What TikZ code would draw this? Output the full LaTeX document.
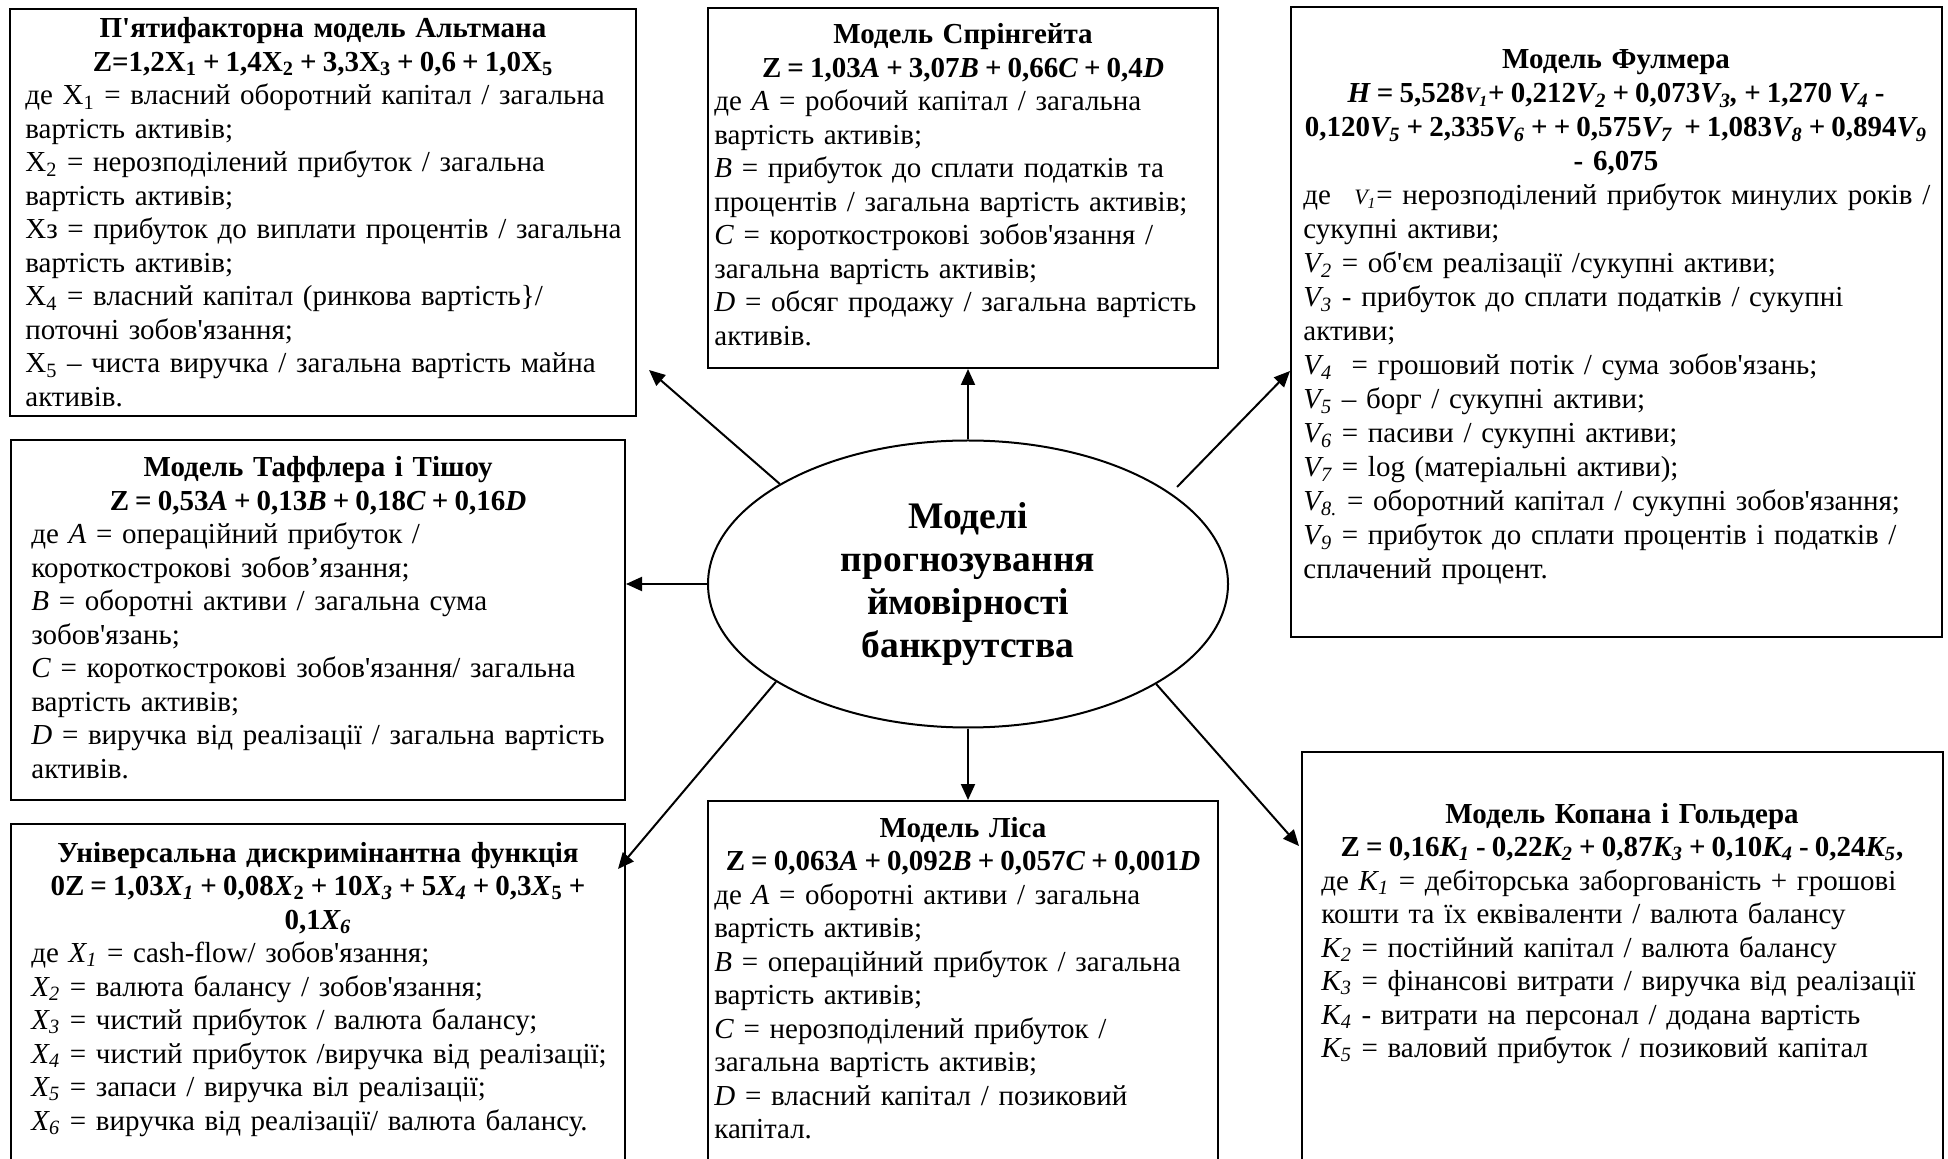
\documentclass[tikz,border=0pt]{standalone}
\usepackage{fontspec}
\setmainfont{Liberation Serif}[Ligatures=TeXOff]
\usetikzlibrary{arrows.meta,calc,shapes.geometric,fit}
\newcommand{\bodyfont}{\fontsize{14.5pt}{16.75pt}\selectfont}
\newcommand{\fulfont}{\fontsize{14.5pt}{17pt}\selectfont}
\newcommand{\ellfont}{\fontsize{18.75pt}{21.5pt}\selectfont\bfseries}
\newcommand{\jl}[2]{\makebox[#1][s]{#2}}
\newcommand{\bi}[1]{\textbf{\textit{#1}}}
\newcommand{\vs}[1]{\textit{V\textsubscript{#1}}}
\newcommand{\smv}[1]{{\fontsize{11pt}{12pt}\selectfont #1}}
\newcommand{\fm}[1]{{\spaceskip=0.21em\relax #1}}
\begin{document}
\begin{tikzpicture}[x=0.5pt,y=-0.5pt,
  frame/.style={draw,line width=1pt,inner sep=0pt,rectangle},
  ttl/.style={anchor=base,inner sep=0pt,text width=#1,align=center,font=\bodyfont\bfseries},
  bdy/.style={anchor=base west,inner sep=0pt,text width=#1,align=left,font=\bodyfont},
  arr/.style={line width=1pt,-{Triangle[length=8pt,width=7pt]}}]
\useasboundingbox (0,0) rectangle (1948,1159);
\clip (0,0) rectangle (1948,1159);
\fill[white] (0,0) rectangle (1948,1159);

% frames
\node[frame,fit={(10,9)(636,416)}] (altman) {};
\node[frame,fit={(708,8)(1218,368)}] (spr) {};
\node[frame,fit={(1291,7)(1942,637)}] (ful) {};
\node[frame,fit={(11,440)(625,800)}] (taf) {};
\node[frame,fit={(11,824)(625,1180)}] (uni) {};
\node[frame,fit={(708,801)(1218,1180)}] (lis) {};
\node[frame,fit={(1302,752)(1943,1180)}] (kop) {};

% Altman
\node[ttl=340pt] (altmanT) at (323,38) {П'ятифакторна модель Альтмана\\\fm{Z=1,2X\textsubscript{1} + 1,4X\textsubscript{2} + 3,3X\textsubscript{3} + 0,6 + 1,0X\textsubscript{5}}};
\node[bdy=330pt] (altmanB) at (25,105) {де X\textsubscript{1} = власний оборотний капітал / загальна\\
вартість активів;\\
X\textsubscript{2} = нерозподілений прибуток / загальна\\
вартість активів;\\
Xз = прибуток до виплати процентів / загальна\\
вартість активів;\\
X\textsubscript{4} = власний капітал (ринкова вартість\}/\\
поточні зобов'язання;\\
\jl{298.5pt}{X\textsubscript{5} – чиста виручка / загальна вартість майна}\\
активів.};

% Springate
\node[ttl=340pt] (sprT) at (963,44) {Модель Спрінгейта\\\fm{Z = 1,03\bi{A} + 3,07\bi{B} + 0,66\bi{C} + 0,4\bi{D}}};
\node[bdy=330pt] (sprB) at (714,111) {де \textit{A} = робочий капітал / загальна\\
вартість активів;\\
\textit{B} = прибуток до сплати податків та\\
процентів / загальна вартість активів;\\
\textit{C} = короткострокові зобов'язання /\\
загальна вартість активів;\\
\jl{249pt}{\textit{D} = обсяг продажу / загальна вартість}\\
активів.};

% Fulmer
\node[ttl=340pt,font=\fulfont\bfseries] (fulT) at (1616,69) {Модель Фулмера\\
\fm{\bi{H} = 5,528\smv{\bi{V\textsubscript{1}}}+ 0,212\bi{V\textsubscript{2}} + 0,073\bi{V\textsubscript{3},} + 1,270 \bi{V\textsubscript{4}} -}\\
\fm{0,120\bi{V\textsubscript{5}} + 2,335\bi{V\textsubscript{6}} + + 0,575\bi{V\textsubscript{7}}\ \ + 1,083\bi{V\textsubscript{8}} + 0,894\bi{V\textsubscript{9}}}\\
- 6,075};
\node[bdy=340pt,font=\fulfont] (fulB) at (1303,205) {\jl{313.5pt}{де\hspace{10pt plus 1fil}\smv{\textit{V\textsubscript{1}}}= нерозподілений прибуток минулих років /}\\
сукупні активи;\\
\vs{2} = об'єм реалізації /сукупні активи;\\
\vs{3} - прибуток до сплати податків / сукупні\\
активи;\\
\vs{4}\ \ = грошовий потік / сума зобов'язань;\\
\vs{5} – борг / сукупні активи;\\
\vs{6} = пасиви / сукупні активи;\\
\vs{7} = log (матеріальні активи);\\
\vs{8.} = оборотний капітал / сукупні зобов'язання;\\
\jl{313.5pt}{\vs{9} = прибуток до сплати процентів і податків /}\\
сплачений процент.};

% Taffler
\node[ttl=340pt] (tafT) at (318,477) {Модель Таффлера і Тішоу\\\fm{Z = 0,53\bi{A} + 0,13\bi{B} + 0,18\bi{C} + 0,16\bi{D}}};
\node[bdy=330pt] (tafB) at (31,544) {де \textit{A} = операційний прибуток /\\
короткострокові зобов’язання;\\
\textit{B} = оборотні активи / загальна сума\\
зобов'язань;\\
\textit{C} = короткострокові зобов'язання/ загальна\\
вартість активів;\\
\textit{D} = виручка від реалізації / загальна вартість\\
активів.};

% Universal
\node[ttl=340pt] (uniT) at (318,862) {Універсальна дискримінантна функція\\
\fm{0Z = 1,03\bi{X\textsubscript{1}} + 0,08\bi{X}\textsubscript{2} + 10\bi{X\textsubscript{3}} + 5\bi{X\textsubscript{4}} + 0,3\bi{X}\textsubscript{5} +}\\
0,1\bi{X\textsubscript{6}}};
\node[bdy=330pt] (uniB) at (31,962.5) {де \textit{X\textsubscript{1}} = cash-flow/ зобов'язання;\\
\textit{X\textsubscript{2}} = валюта балансу / зобов'язання;\\
\textit{X\textsubscript{3}} = чистий прибуток / валюта балансу;\\
\textit{X\textsubscript{4}} = чистий прибуток /виручка від реалізації;\\
\textit{X\textsubscript{5}} = запаси / виручка віл реалізації;\\
\textit{X\textsubscript{6}} = виручка від реалізації/ валюта балансу.};

% Lis
\node[ttl=340pt] (lisT) at (963,837) {Модель Ліса\\\fm{Z = 0,063\bi{A} + 0,092\bi{B} + 0,057\bi{C} + 0,001\bi{D}}};
\node[bdy=330pt] (lisB) at (714,904) {де \textit{A} = оборотні активи / загальна\\
вартість активів;\\
\textit{B} = операційний прибуток / загальна\\
вартість активів;\\
\textit{C} = нерозподілений прибуток /\\
загальна вартість активів;\\
\jl{249pt}{\textit{D} = власний капітал / позиковий}\\
капітал.};

% Kopan
\node[ttl=340pt] (kopT) at (1622,823) {Модель Копана і Гольдера\\\fm{Z = 0,16\bi{K\textsubscript{1}} - 0,22\bi{K\textsubscript{2}} + 0,87\bi{K\textsubscript{3}} + 0,10\bi{K\textsubscript{4}} - 0,24\bi{K\textsubscript{5}},}};
\node[bdy=330pt] (kopB) at (1321,890) {\jl{302.5pt}{де \textit{K\textsubscript{1}} = дебіторська заборгованість + грошові}\\
кошти та їх еквіваленти / валюта балансу\\
\textit{K\textsubscript{2}} = постійний капітал / валюта балансу\\
\textit{K\textsubscript{3}} = фінансові витрати / виручка від реалізації\\
\textit{K\textsubscript{4}} - витрати на персонал / додана вартість\\
\textit{K\textsubscript{5}} = валовий прибуток / позиковий капітал};

% centre
\node[ellipse,draw,line width=1pt,minimum width=260pt,minimum height=143.5pt,inner sep=0pt,align=center,font=\ellfont] (ell) at (968,584) {Моделі\\прогнозування\\ймовірності\\банкрутства};

% connectors
\draw[arr] (ell.152.7) -- ($(altman.south east)+(12,-47)$);
\draw[arr] (ell.north) -- (ell.north |- spr.south);
\draw[arr] ($(ell.center)+(209,-97)$) -- ($(ful.north west)+(0,365)$);
\draw[arr] (ell.west) -- (ell.west -| taf.east);
\draw[arr] (ell.207.5) -- ($(uni.north east)+(-8,46)$);
\draw[arr] (ell.south) -- (ell.south |- lis.north);
\draw[arr] (ell.332.7) -- ($(kop.north west)+(-2,95)$);
\end{tikzpicture}
\end{document}
